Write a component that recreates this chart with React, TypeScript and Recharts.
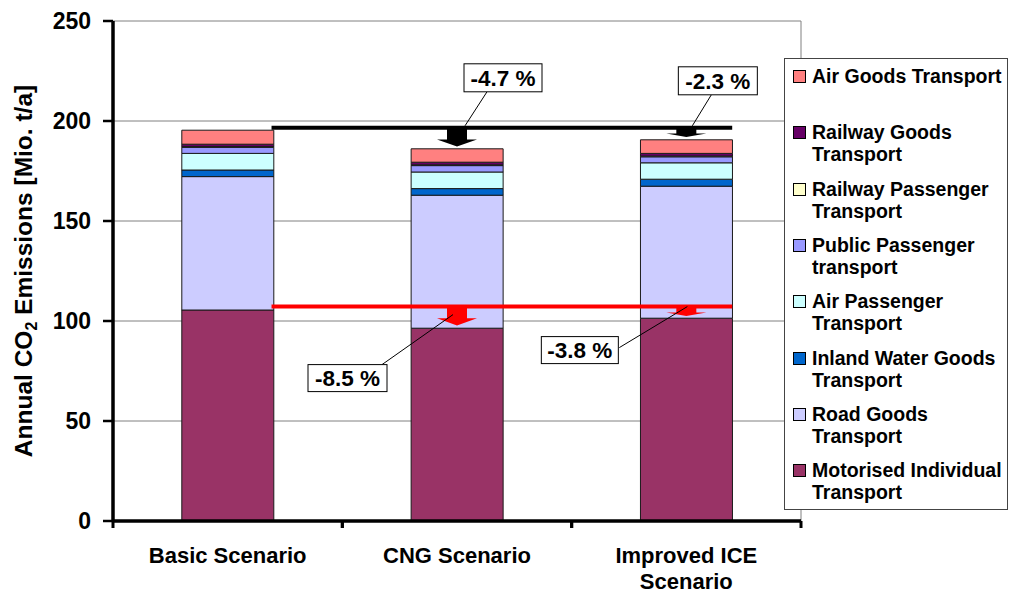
import React from 'react';
import { BarChart, Bar, XAxis, YAxis, CartesianGrid, ReferenceLine } from 'recharts';

// ---------- data ----------
const categories = ['Basic Scenario', 'CNG Scenario', 'Improved ICE Scenario'];

const motorisedIndividual = [105.5, 96.4, 101.4];
const roadGoods = [66.7, 66.5, 66.0];
const inlandWaterGoods = [3.3, 3.3, 3.5];
const airPassenger = [8.3, 8.3, 8.2];
const publicPassenger = [3.0, 3.2, 3.0];
const railwayPassenger = [0.4, 0.4, 0.4];
const railwayGoods = [1.2, 1.3, 1.3];
const airGoods = [7.0, 6.7, 6.8];

// stack order: bottom -> top
const seriesNames = [
  'Motorised Individual Transport',
  'Road Goods Transport',
  'Inland Water Goods Transport',
  'Air Passenger Transport',
  'Public Passenger transport',
  'Railway Passenger Transport',
  'Railway Goods Transport',
  'Air Goods Transport',
];
const seriesValues = [
  motorisedIndividual,
  roadGoods,
  inlandWaterGoods,
  airPassenger,
  publicPassenger,
  railwayPassenger,
  railwayGoods,
  airGoods,
];
const seriesColors = ['#993366', '#CCCCFF', '#0066CC', '#CCFFFF', '#9999FF', '#FFFFCC', '#660066', '#FF8080'];

const yTicks = [0, 50, 100, 150, 200, 250];

// annotation values
const totalReference = 196.6; // black line (basic scenario total)
const motorisedReference = 107.2; // red line (basic scenario motorised)
const totalArrowTips = [187.2, 192.0]; // CNG, Improved ICE
const motorisedArrowTips = [97.8, 102.5];
const totalChangeLabels = ['-4.7 %', '-2.3 %'];
const motorisedChangeLabels = ['-8.5 %', '-3.8 %'];

const data = categories.map((name, i) => {
  const row: Record<string, any> = { name };
  seriesNames.forEach((s, k) => {
    row['s' + k] = seriesValues[k][i];
  });
  return row;
});

const FONT = '"Liberation Sans", Arial, Helvetica, sans-serif';

// ---------- shapes ----------
const HLineShape = (color: string) => (p: any) => {
  const band = (p.x2 - p.x1) / 2;
  const half = band * 0.2;
  return (
    <line
      x1={p.x1 + half - 2}
      y1={p.y1}
      x2={p.x2 + half}
      y2={p.y2}
      stroke={color}
      strokeWidth={4}
    />
  );
};

type Box = { dx: number; dy: number; w: number; h: number };
type Leader = [number, number, number, number];

const ArrowShape = (color: string, label: string, box: Box, leader: Leader) => (p: any) => {
  const cx = p.x1;
  const y1 = p.y1;
  const y2 = p.y2;
  const L = y2 - y1;
  const head = L * 0.38;
  const pts = [
    [cx - 10, y1],
    [cx + 10, y1],
    [cx + 10, y2 - head],
    [cx + 20, y2 - head],
    [cx, y2],
    [cx - 20, y2 - head],
    [cx - 10, y2 - head],
  ]
    .map((q) => q.join(','))
    .join(' ');
  return (
    <g>
      <polygon points={pts} fill={color} />
      <line
        x1={cx + leader[0]}
        y1={y1 + leader[1]}
        x2={cx + leader[2]}
        y2={y1 + leader[3]}
        stroke="#000"
        strokeWidth={1}
      />
      <rect x={cx + box.dx} y={y1 + box.dy} width={box.w} height={box.h} fill="#fff" stroke="#000" strokeWidth={1} />
      <text
        x={cx + box.dx + box.w / 2}
        y={y1 + box.dy + box.h / 2 + 8}
        textAnchor="middle"
        fontSize={22.5}
        fontWeight="bold"
        fill="#000"
        fontFamily={FONT}
      >
        {label}
      </text>
    </g>
  );
};

const wrapLabel = (s: string): string[] => {
  if (s.length <= 16) return [s];
  const idx = s.lastIndexOf(' ');
  return [s.slice(0, idx), s.slice(idx + 1)];
};

const XTick = (props: any) => {
  const { x, y, payload } = props;
  const off = payload && typeof payload.offset === 'number' && payload.offset > 0 ? payload.offset : 114.7;
  const axisY = y - 6;
  const lines = wrapLabel(String(payload.value));
  return (
    <g>
      <line x1={x - off} y1={axisY} x2={x - off} y2={axisY + 7} stroke="#000" strokeWidth={3} />
      <line x1={x + off} y1={axisY} x2={x + off} y2={axisY + 7} stroke="#000" strokeWidth={3} />
      <text x={x} y={axisY + 42} textAnchor="middle" fontSize={22} fontWeight="bold" fill="#000" fontFamily={FONT}>
        {lines.map((l, i) => (
          <tspan key={i} x={x} dy={i === 0 ? 0 : 26}>
            {l}
          </tspan>
        ))}
      </text>
    </g>
  );
};

const YTitle = () => (
  <text
    x={32}
    y={271}
    transform="rotate(-90, 32, 271)"
    textAnchor="middle"
    fontSize={24.5}
    fontWeight="bold"
    fill="#000"
    fontFamily={FONT}
  >
    Annual CO
    <tspan fontSize={16} dy={5}>
      2
    </tspan>
    <tspan dy={-5}> Emissions [Mio. t/a]</tspan>
  </text>
);

export default function App() {
  const legendItems = seriesNames.map((n, i) => ({ n, c: seriesColors[i] })).reverse();
  return (
    <div
      style={{
        position: 'absolute',
        left: 0,
        top: 0,
        width: 1011,
        height: 595,
        background: '#fff',
        fontFamily: FONT,
      }}
    >
      <BarChart
        width={1011}
        height={595}
        data={data}
        margin={{ top: 21, right: 210, bottom: 44, left: 53 }}
        barCategoryGap="30%"
      >
        <CartesianGrid
          horizontal={true}
          vertical={true}
          stroke="#808080"
          strokeWidth={1}
          verticalCoordinatesGenerator={({ offset }: any) => [offset.left + offset.width]}
        />
        <XAxis
          dataKey="name"
          height={30}
          axisLine={{ stroke: '#000', strokeWidth: 3.5 }}
          tickLine={false}
          tickSize={6}
          tickMargin={0}
          interval={0}
          tick={<XTick />}
        />
        <YAxis
          width={60}
          domain={[0, 250]}
          ticks={yTicks}
          interval={0}
          axisLine={{ stroke: '#000', strokeWidth: 3.5 }}
          tickLine={{ stroke: '#000', strokeWidth: 2.5 }}
          tickSize={10}
          tickMargin={12}
          tick={{ fill: '#000', fontSize: 23, fontWeight: 'bold', fontFamily: FONT }}
          label={{ content: () => <YTitle /> }}
        />
        {seriesNames.map((n, k) => (
          <Bar
            key={n}
            dataKey={'s' + k}
            name={n}
            stackId="a"
            fill={seriesColors[k]}
            stroke="#1a1a1a"
            strokeWidth={1}
            isAnimationActive={false}
          />
        ))}
        <ReferenceLine
          ifOverflow="visible"
          segment={[
            { x: categories[0], y: totalReference },
            { x: categories[2], y: totalReference },
          ]}
          shape={HLineShape('#000')}
        />
        <ReferenceLine
          ifOverflow="visible"
          segment={[
            { x: categories[0], y: motorisedReference },
            { x: categories[2], y: motorisedReference },
          ]}
          shape={HLineShape('#FF0000')}
        />
        <ReferenceLine
          ifOverflow="visible"
          segment={[
            { x: categories[1], y: totalReference },
            { x: categories[1], y: totalArrowTips[0] },
          ]}
          shape={ArrowShape('#000', totalChangeLabels[0], { dx: 7, dy: -64, w: 78, h: 28 }, [30, -36, 8, -2])}
        />
        <ReferenceLine
          ifOverflow="visible"
          segment={[
            { x: categories[2], y: totalReference },
            { x: categories[2], y: totalArrowTips[1] },
          ]}
          shape={ArrowShape('#000', totalChangeLabels[1], { dx: -8, dy: -61, w: 79, h: 28 }, [25, -33, 6, -2])}
        />
        <ReferenceLine
          ifOverflow="visible"
          segment={[
            { x: categories[1], y: motorisedReference },
            { x: categories[1], y: motorisedArrowTips[0] },
          ]}
          shape={ArrowShape('#FF0000', motorisedChangeLabels[0], { dx: -149, dy: 58, w: 79, h: 27 }, [-75, 58, -4, 8])}
        />
        <ReferenceLine
          ifOverflow="visible"
          segment={[
            { x: categories[2], y: motorisedReference },
            { x: categories[2], y: motorisedArrowTips[1] },
          ]}
          shape={ArrowShape('#FF0000', motorisedChangeLabels[1], { dx: -145, dy: 30, w: 77, h: 27 }, [-67, 41, 1, 0])}
        />
      </BarChart>
      <div
        style={{
          position: 'absolute',
          left: 784,
          top: 58,
          width: 224,
          height: 452,
          boxSizing: 'border-box',
          border: '1px solid #444',
          background: '#fff',
        }}
      >
        {legendItems.map((it, i) => (
          <div key={it.n} style={{ position: 'absolute', left: 0, top: 6 + i * 56.3, width: 222 }}>
            <div
              style={{
                position: 'absolute',
                left: 8,
                top: 5,
                width: 11,
                height: 11,
                background: it.c,
                border: '1px solid #000',
              }}
            />
            <div
              style={{
                position: 'absolute',
                left: 27,
                top: 0,
                width: 195,
                fontSize: 19.5,
                fontWeight: 'bold',
                lineHeight: '22px',
                color: '#000',
                whiteSpace: 'normal',
              }}
            >
              {it.n}
            </div>
          </div>
        ))}
      </div>
    </div>
  );
}
